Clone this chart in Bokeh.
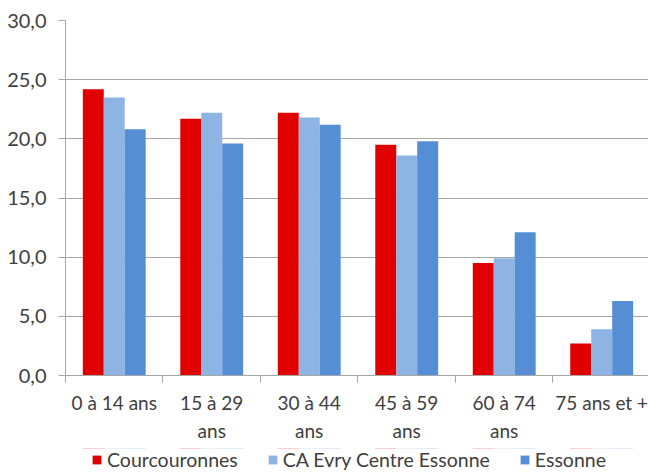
from bokeh.plotting import figure
from bokeh.models import (ColumnDataSource, FixedTicker, CustomJSTickFormatter,
                          Legend, LegendItem, BoxAnnotation)
from bokeh.layouts import column
from bokeh.embed import file_html
from bokeh.resources import INLINE

categories = ["0 à 14 ans", "15 à 29\nans", "30 à 44\nans", "45 à 59\nans",
              "60 à 74\nans", "75 ans et +"]
courcouronnes = [24.2, 21.7, 22.2, 19.5, 9.5, 2.7]
ca_evry = [23.5, 22.2, 21.8, 18.6, 9.9, 3.9]
essonne = [20.8, 19.6, 21.2, 19.8, 12.1, 6.3]
series_names = ["Courcouronnes", "CA Evry Centre Essonne", "Essonne"]
series_values = [courcouronnes, ca_evry, essonne]
colors = ["#E00000", "#8DB4E2", "#558ED5"]
y_ticks = [0, 5, 10, 15, 20, 25, 30]

FONT = "Lato"
TEXT = "#404040"
GRID = "#A6A6A6"

p = figure(width=648, height=448, x_range=(0, 5.98), y_range=(0, 30),
           output_backend="svg", toolbar_location=None,
           min_border_left=65, min_border_right=0, min_border_top=20,
           min_border_bottom=73)
p.outline_line_color = None
p.background_fill_color = "white"
p.border_fill_color = "white"

bar_w = 0.215
offsets = [-bar_w, 0.0, bar_w]
sources = []
for name, vals, col, off in zip(series_names, series_values, colors, offsets):
    src = ColumnDataSource(dict(x=[i + 0.5 + off for i in range(len(categories))],
                                top=vals))
    sources.append(src)
    p.vbar(x="x", top="top", width=bar_w, source=src, fill_color=col,
           line_color=None)

p.xgrid.visible = False
p.ygrid.ticker = FixedTicker(ticks=y_ticks)
p.ygrid.grid_line_color = GRID
p.ygrid.grid_line_width = 1

# y axis
ya = p.yaxis[0]
ya.ticker = FixedTicker(ticks=y_ticks)
ya.formatter = CustomJSTickFormatter(code="return tick.toFixed(1).replace('.', ',');")
ya.axis_line_color = GRID
ya.major_tick_line_color = GRID
ya.major_tick_out = 7
ya.major_tick_in = 0
ya.minor_tick_line_color = None
ya.major_label_text_font = FONT
ya.major_label_text_font_size = "20px"
ya.major_label_text_color = TEXT
ya.major_label_standoff = 12

# x axis
xa = p.xaxis[0]
xa.ticker = FixedTicker(ticks=[i + 0.5 for i in range(len(categories))],
                        minor_ticks=list(range(len(categories) + 1)))
xa.formatter = CustomJSTickFormatter(args=dict(labels=categories),
                                     code="return labels[Math.round(tick - 0.5)];")
xa.axis_line_color = GRID
xa.major_tick_line_color = None
xa.major_tick_out = 7
xa.major_tick_in = 0
xa.minor_tick_line_color = GRID
xa.minor_tick_out = 7
xa.minor_tick_in = 0
xa.major_label_text_font = FONT
xa.major_label_text_font_size = "19px"
xa.major_label_text_color = TEXT
xa.major_label_text_line_height = 1.23
xa.major_label_standoff = 8

# legend strip below the chart (same series, outside its visible range)
pl = figure(width=648, height=28, x_range=(0, 5.98), y_range=(-1000, -999),
            output_backend="svg", toolbar_location=None,
            x_axis_type=None, y_axis_type=None, min_border=0)
pl.outline_line_color = None
pl.xgrid.visible = False
pl.ygrid.visible = False
leg_renderers = [pl.vbar(x="x", top="top", width=bar_w, source=src,
                         fill_color=c, line_color=None)
                 for src, c in zip(sources, colors)]
# white cover so that nothing of the off-range bars shows through
pl.add_layout(BoxAnnotation(fill_color="white", fill_alpha=1.0, line_color=None))
legend = Legend(items=[LegendItem(label=n, renderers=[r])
                       for n, r in zip(series_names, leg_renderers)],
                orientation="horizontal", location=(26, 5))
legend.label_text_font = FONT
legend.label_text_font_size = "19.5px"
legend.label_text_color = TEXT
legend.glyph_width = 11
legend.glyph_height = 11
legend.label_standoff = 5
legend.spacing = 29
legend.padding = 0
legend.margin = 0
legend.border_line_color = None
legend.background_fill_alpha = 0
pl.add_layout(legend, "center")

layout = column(p, pl, spacing=0)
open("out.html", "w").write(file_html(layout, INLINE))
